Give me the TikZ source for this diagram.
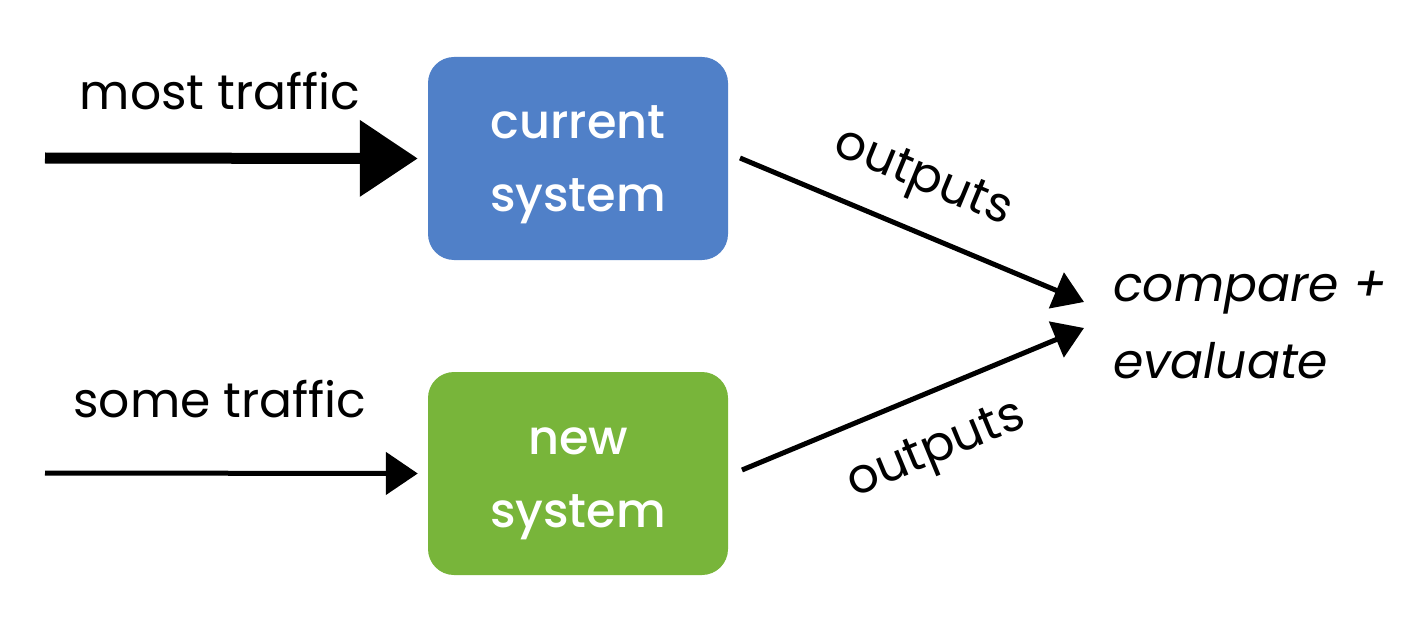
\documentclass[tikz,border=0pt]{standalone}
\usepackage{fontspec}
\setmainfont{Poppins}[BoldFont={Poppins Medium}]
\usetikzlibrary{arrows.meta}
\definecolor{boxblue}{HTML}{5080C8}
\definecolor{boxgreen}{HTML}{78B53A}
\tikzset{
  sysbox/.style={rounded corners=26bp, minimum width=300bp, minimum height=203bp,
    text=white, align=center, inner sep=0pt,
    font=\fontsize{48}{73}\selectfont\bfseries},
  lbl/.style={font=\fontsize{49}{60}\selectfont, inner sep=0pt},
  thickarrow/.style={line width=11bp, -{Triangle[length=58bp,width=74bp]}},
  thinarrow/.style={line width=5bp, -{Triangle[length=32bp,width=42bp]}},
  outarrow/.style={line width=5bp, -{Triangle[length=30bp,width=38bp]}},
}
\begin{document}
\begin{tikzpicture}[x=1bp,y=-1bp]
\useasboundingbox (0,0) rectangle (1426,626);
\node[sysbox, fill=boxblue] (cur) at (578,158.5) {};
\node[sysbox, fill=boxgreen] (new) at (578,473.5) {};
\node[sysbox, anchor=base] (curt1) at (578,139) {current};
\node[sysbox, anchor=base] (curt2) at (578,212) {system};
\node[sysbox, anchor=base] (newt1) at (578,454) {new};
\node[sysbox, anchor=base] (newt2) at (578,527) {system};
\node[lbl, anchor=base] (most) at (220,110) {most traffic};
\node[lbl, anchor=base] (some) at (220,417) {some traffic};
\coordinate (a1) at (45,158);
\coordinate (a2) at (45,473);
\coordinate (o1) at (740,158);
\coordinate (o2) at (742,470);
\coordinate (e1) at (1084,302);
\coordinate (e2) at (1084,328);
\draw[thickarrow] (a1) -- ([xshift=-10bp]cur.west);
\draw[thinarrow] (a2) -- ([xshift=-10bp]new.west);
\draw[outarrow] (o1) -- (e1);
\draw[outarrow] (o2) -- (e2);
\node[lbl, rotate=-22.5] (out1) at (922,180) {outputs};
\node[lbl, rotate=22.5] (out2) at (937,452) {outputs};
\node[lbl, anchor=base west, font=\fontsize{49}{77}\selectfont\itshape] (cmp1) at (1113,301) {compare +};
\node[lbl, anchor=base west, font=\fontsize{49}{77}\selectfont\itshape] (cmp2) at (1113,378) {evaluate};
\end{tikzpicture}
\end{document}
